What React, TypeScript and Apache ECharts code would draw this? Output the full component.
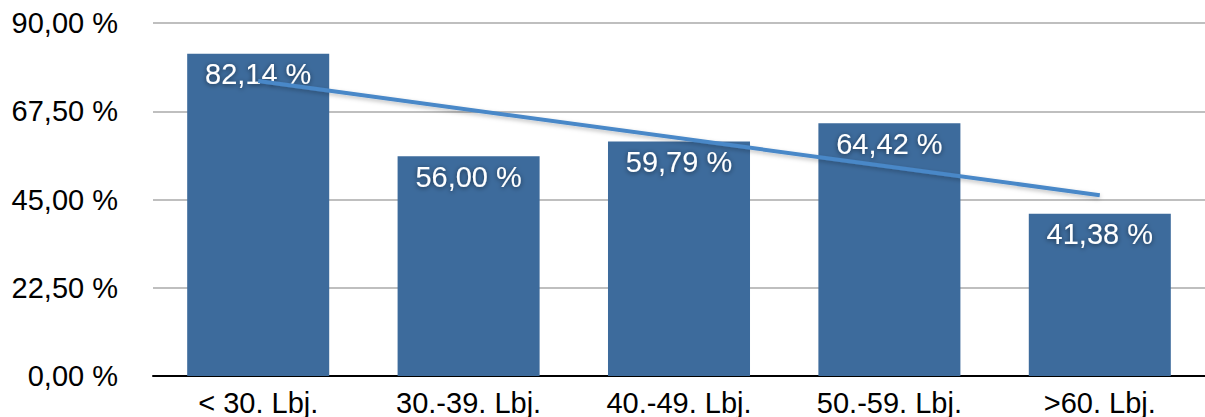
import React, { useEffect, useRef } from "react";
import * as echarts from "echarts";

const categories = ["< 30. Lbj.", "30.-39. Lbj.", "40.-49. Lbj.", "50.-59. Lbj.", ">60. Lbj."];
const shares = [82.14, 56.0, 59.79, 64.42, 41.38];
// linear trend endpoints over the first and last category
const trend = [75.2, null, null, null, 46.1];
const yTicks = { min: 0, max: 90, interval: 22.5 };

const fmt = (v: number) => v.toFixed(2).replace(".", ",") + " %";

export default function App() {
  const ref = useRef<HTMLDivElement>(null);

  useEffect(() => {
    if (!ref.current) return;
    const chart = echarts.init(ref.current, undefined, { renderer: "svg" });
    const font = "'Liberation Sans', Arial, Helvetica, sans-serif";
    chart.setOption({
      animation: false,
      grid: { left: 153, right: 0, top: 23, bottom: 41, containLabel: false },
      xAxis: {
        type: "category",
        data: categories,
        axisLine: { lineStyle: { color: "#000", width: 2 } },
        axisTick: { show: false },
        axisLabel: { color: "#000", fontSize: 29, fontFamily: font, margin: 12, interval: 0 },
      },
      yAxis: {
        type: "value",
        min: yTicks.min,
        max: yTicks.max,
        interval: yTicks.interval,
        axisLine: { show: false },
        axisTick: { show: false },
        splitLine: { lineStyle: { color: "#bfbfbf", width: 2 } },
        axisLabel: { color: "#000", fontSize: 29, fontFamily: font, margin: 35, formatter: fmt },
      },
      series: [
        {
          type: "bar",
          data: shares,
          barWidth: "67.5%",
          itemStyle: { color: "#3d6b9c" },
          label: {
            show: true,
            position: "insideTop",
            distance: 6,
            color: "#fff",
            fontSize: 29,
            fontFamily: font,
            formatter: (p: any) => fmt(p.value),
            textShadowColor: "rgba(0,0,0,0.55)",
            textShadowBlur: 5,
            textShadowOffsetY: 1,
          },
        },
        {
          type: "line",
          data: trend,
          connectNulls: true,
          symbol: "none",
          lineStyle: {
            color: "#4a88c8",
            width: 4,
            shadowColor: "rgba(0,0,0,0.25)",
            shadowBlur: 4,
            shadowOffsetY: 2,
          },
          z: 3,
        },
      ],
    });
    return () => chart.dispose();
  }, []);

  return (
    <div
      ref={ref}
      style={{ position: "fixed", left: 0, top: 0, width: 1205, height: 417, background: "#fff" }}
    />
  );
}
